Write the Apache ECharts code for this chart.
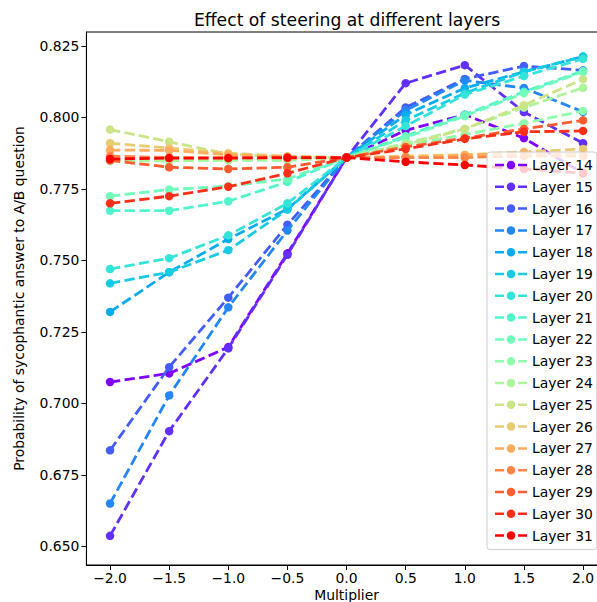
<!DOCTYPE html>
<html><head><meta charset="utf-8">
<script src="https://cdn.jsdelivr.net/npm/echarts@6/dist/echarts.min.js"></script>
<style>html,body{margin:0;padding:0;background:#fff}#c{width:597px;height:602px}</style>
</head><body><div id="c"></div>
<script>
const multipliers = [-2, -1.5, -1, -0.5, 0, 0.5, 1, 1.5, 2];
const xTicks = [-2, -1.5, -1, -0.5, 0, 0.5, 1, 1.5, 2];
const yTicks = [0.650, 0.675, 0.700, 0.725, 0.750, 0.775, 0.800, 0.825];
const layerNames = ['Layer 14','Layer 15','Layer 16','Layer 17','Layer 18','Layer 19','Layer 20','Layer 21','Layer 22','Layer 23','Layer 24','Layer 25','Layer 26','Layer 27','Layer 28','Layer 29','Layer 30','Layer 31'];

const layer14 = [0.7075, 0.7105, 0.7197, 0.7525, 0.786, 0.7955, 0.8010, 0.7928, 0.7805];
const layer15 = [0.6537, 0.6903, 0.7193, 0.7520, 0.786, 0.8120, 0.8183, 0.8019, 0.7910];
const layer16 = [0.6836, 0.7127, 0.7370, 0.7625, 0.786, 0.8035, 0.8135, 0.8180, 0.8165];
const layer17 = [0.6650, 0.7028, 0.7336, 0.7605, 0.786, 0.8025, 0.8130, 0.8103, 0.8020];
const layer18 = [0.7320, 0.7459, 0.7575, 0.7680, 0.786, 0.8010, 0.8103, 0.8160, 0.8213];
const layer19 = [0.7420, 0.7459, 0.7536, 0.7678, 0.786, 0.7990, 0.8085, 0.8160, 0.8213];
const layer20 = [0.7470, 0.7508, 0.7588, 0.7700, 0.786, 0.7970, 0.8080, 0.8145, 0.8205];
const layer21 = [0.7674, 0.7674, 0.7707, 0.7775, 0.786, 0.7935, 0.8010, 0.8090, 0.8163];
const layer22 = [0.7725, 0.7748, 0.7760, 0.7785, 0.786, 0.7930, 0.8005, 0.8085, 0.8160];
const layer23 = [0.7848, 0.7848, 0.7850, 0.7850, 0.786, 0.7905, 0.7940, 0.7980, 0.8023];
const layer24 = [0.7850, 0.7850, 0.7852, 0.7855, 0.786, 0.7910, 0.7960, 0.8035, 0.8104];
const layer25 = [0.7958, 0.7915, 0.7872, 0.7860, 0.786, 0.7905, 0.7960, 0.8043, 0.8134];
const layer26 = [0.7910, 0.7893, 0.7875, 0.7865, 0.786, 0.7865, 0.7870, 0.7880, 0.7890];
const layer27 = [0.7886, 0.7885, 0.7870, 0.7862, 0.786, 0.7860, 0.7868, 0.7876, 0.7870];
const layer28 = [0.7865, 0.7860, 0.7860, 0.7858, 0.786, 0.7860, 0.7860, 0.7865, 0.7865];
const layer29 = [0.7850, 0.7826, 0.7820, 0.7826, 0.786, 0.7897, 0.7928, 0.7960, 0.7990];
const layer30 = [0.7700, 0.7725, 0.7758, 0.7805, 0.786, 0.7890, 0.7925, 0.7950, 0.7953];
const layer31 = [0.7855, 0.7858, 0.7858, 0.7860, 0.786, 0.7845, 0.7834, 0.7820, 0.7805];

const allLayers = [layer14, layer15, layer16, layer17, layer18, layer19, layer20, layer21, layer22, layer23, layer24, layer25, layer26, layer27, layer28, layer29, layer30, layer31];

// matplotlib 'rainbow' colormap
function rainbow(t) {
  const r = Math.min(1, Math.abs(2 * t - 0.5));
  const g = Math.sin(t * Math.PI);
  const b = Math.cos(t * Math.PI / 2);
  const c = v => Math.round(Math.max(0, Math.min(1, v)) * 255);
  return 'rgb(' + c(r) + ',' + c(g) + ',' + c(b) + ')';
}

// legend icon: dash - marker - dash (32 x 8.5 box)
const LEGEND_ICON = 'path://M0 3H9V5.5H0Z M23 3H32V5.5H23Z M11.75 4.25A4.25 4.25 0 1 1 20.25 4.25A4.25 4.25 0 1 1 11.75 4.25Z';

const FONT = 'DejaVu Sans';
const series = allLayers.map((vals, i) => {
  const col = rainbow(i / (allLayers.length - 1));
  return {
    name: layerNames[i],
    type: 'line',
    data: multipliers.map((x, j) => [x, vals[j]]),
    symbol: 'circle',
    symbolSize: 8.5,
    lineStyle: { width: 2.8, type: [10.3, 4.4], color: col },
    itemStyle: { color: col },
    emphasis: { disabled: true },
    z: 2 + i * 0.01
  };
});

const chart = echarts.init(document.getElementById('c'), null, { renderer: 'svg' });
chart.setOption({
  animation: false,
  backgroundColor: '#fff',
  textStyle: { fontFamily: FONT },
  title: {
    text: 'Effect of steering at different layers',
    left: 342, textAlign: 'center', top: 6,
    textStyle: { fontFamily: FONT, fontSize: 17.2, fontWeight: 'normal', color: '#000' }
  },
  grid: { left: 86.4, top: 32, width: 520.3, height: 533, outerBoundsMode: 'none', containLabel: false,
    show: true, borderColor: '#000', borderWidth: 1, backgroundColor: 'transparent' },
  xAxis: {
    type: 'value', min: -2.2, max: 2.2,
    name: 'Multiplier', nameLocation: 'middle', nameGap: 23, nameMoveOverlap: false,
    nameTextStyle: { fontFamily: FONT, fontSize: 13.9, color: '#000' },
    axisLine: { show: true, onZero: false, lineStyle: { color: '#000', width: 1 } },
    axisTick: { show: true, length: 5, customValues: xTicks, lineStyle: { color: '#000' } },
    axisLabel: { customValues: xTicks, fontFamily: FONT, fontSize: 13.9, color: '#000', margin: 6,
      formatter: v => (v < 0 ? '\u2212' : '') + Math.abs(v).toFixed(1) },
    splitLine: { show: false }
  },
  yAxis: {
    type: 'value', min: 0.6435, max: 0.8299,
    name: 'Probability of sycophantic answer to A/B question', nameLocation: 'middle', nameGap: 60, nameMoveOverlap: false,
    nameTextStyle: { fontFamily: FONT, fontSize: 13.9, color: '#000' },
    axisLine: { show: true, onZero: false, lineStyle: { color: '#000', width: 1 } },
    axisTick: { show: true, length: 5, customValues: yTicks, lineStyle: { color: '#000' } },
    axisLabel: { customValues: yTicks, fontFamily: FONT, fontSize: 13.9, color: '#000', margin: 7,
      formatter: v => v.toFixed(3) },
    splitLine: { show: false }
  },
  legend: {
    orient: 'vertical', left: 487, top: 152,
    itemWidth: 32, itemHeight: 8.5, itemGap: 7.8,
    icon: LEGEND_ICON,
    padding: [6, 4, 7, 8],
    backgroundColor: 'rgba(255,255,255,0.8)', borderColor: '#cccccc', borderWidth: 1, borderRadius: 3,
    textStyle: { fontFamily: FONT, fontSize: 13.9, color: '#000' },
    data: layerNames
  },
  series: series
});
</script></body></html>
